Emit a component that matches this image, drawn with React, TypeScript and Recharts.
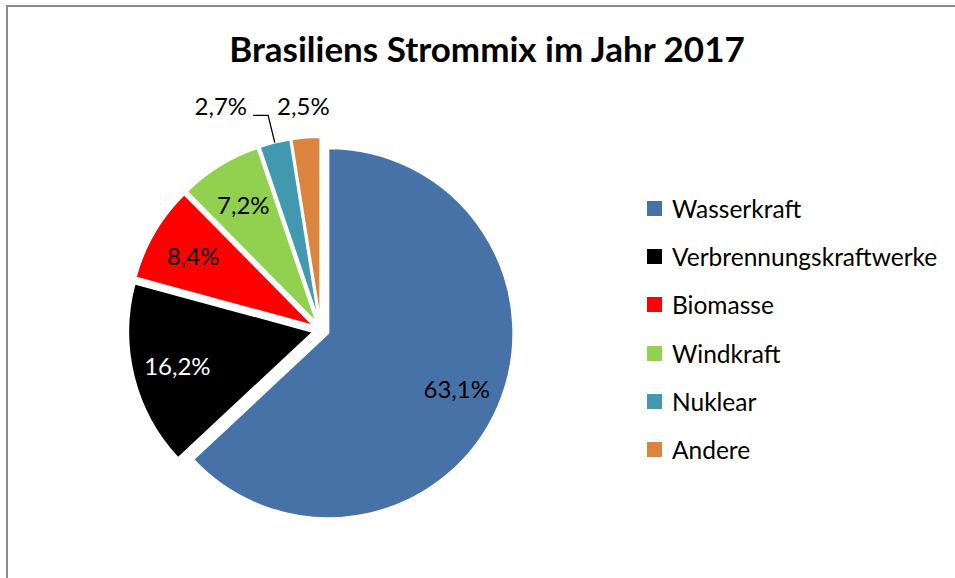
import React from 'react';
import { PieChart, Pie, Cell, Legend } from 'recharts';

const categories = ['Wasserkraft', 'Verbrennungskraftwerke', 'Biomasse', 'Windkraft', 'Nuklear', 'Andere'];
const shares = [63.1, 16.2, 8.4, 7.2, 2.7, 2.5];
const colors = ['#4672A8', '#000000', '#FF0000', '#92D050', '#4198AF', '#DB843D'];

const data = categories.map((name, i) => ({ name, value: shares[i] }));

const CX = 321;
const CY = 330;
const R = 185;
const EXPLODE = 8;
const FONT = 'Lato, "Open Sans", sans-serif';
const LABEL_SIZE = 24;

// offset of each exploded slice along its middle angle (clockwise from 12 o'clock)
const total = shares.reduce((a, b) => a + b, 0);
const offsets = shares.map((v, i) => {
  const before = shares.slice(0, i).reduce((a, b) => a + b, 0);
  const theta = ((before + v / 2) / total) * 2 * Math.PI;
  return { dx: Math.sin(theta) * EXPLODE, dy: -Math.cos(theta) * EXPLODE };
});

const fmt = (v: number) => v.toFixed(1).replace('.', ',') + '%';

const makeLabel = (k: number) => (props: any) => {
  const { cx, cy, midAngle, outerRadius, index, value } = props;
  if (index !== k) return null;
  const rad = Math.PI / 180;
  const ux = Math.cos(-midAngle * rad);
  const uy = Math.sin(-midAngle * rad);
  if (k < 4) {
    return (
      <text
        x={cx + ux * 140}
        y={cy + uy * 140}
        textAnchor="middle"
        dominantBaseline="central"
        fill={k === 1 ? '#fff' : '#000'}
        fontSize={LABEL_SIZE}
        fontFamily={FONT}
      >
        {fmt(value)}
      </text>
    );
  }
  if (k === 5) {
    return (
      <text
        x={cx + ux * (outerRadius + 32)}
        y={cy + uy * (outerRadius + 32)}
        textAnchor="middle"
        dominantBaseline="central"
        fill="#000"
        fontSize={LABEL_SIZE}
        fontFamily={FONT}
      >
        {fmt(value)}
      </text>
    );
  }
  // Nuklear: pushed to the left with a leader line
  const sx = cx + ux * outerRadius;
  const sy = cy + uy * outerRadius;
  const ex = cx + ux * (outerRadius + 28);
  const ey = cy + uy * (outerRadius + 28);
  return (
    <g>
      <polyline points={`${sx},${sy} ${ex},${ey} ${ex - 15},${ey}`} fill="none" stroke="#000" strokeWidth={1.3} />
      <text x={ex - 21} y={ey - 10} textAnchor="end" dominantBaseline="central" fill="#000" fontSize={LABEL_SIZE} fontFamily={FONT}>
        {fmt(value)}
      </text>
    </g>
  );
};

function LegendList() {
  return (
    <div style={{ fontFamily: FONT }}>
      {categories.map((c, i) => (
        <div key={c} style={{ height: 48.3, display: 'flex', alignItems: 'center' }}>
          <span style={{ width: 15, height: 15, background: colors[i], marginRight: 10, display: 'inline-block', flex: 'none' }} />
          <span style={{ fontSize: 24.5, color: '#000', whiteSpace: 'nowrap' }}>{c}</span>
        </div>
      ))}
    </div>
  );
}

export default function App() {
  return (
    <div style={{ position: 'absolute', left: 0, top: 0, width: 955, height: 578, background: '#fff', overflow: 'hidden', fontFamily: FONT }}>
      <div
        style={{
          position: 'absolute',
          left: 6,
          top: 5,
          width: 960,
          height: 600,
          borderLeft: '2px solid #8c8c8c',
          borderTop: '2px solid #8c8c8c',
        }}
      />
      <svg width={955} height={80} style={{ position: 'absolute', left: 0, top: 0 }}>
        <text x={487} y={62} textAnchor="middle" fontSize={35} fontWeight="bold" fontFamily={FONT} fill="#000">
          Brasiliens Strommix im Jahr 2017
        </text>
      </svg>
      <div style={{ position: 'absolute', left: 0, top: 0 }}>
        <PieChart width={955} height={578} margin={{ top: 0, right: 0, bottom: 0, left: 0 }}>
          {data.map((_, k) => (
            <Pie
              key={k}
              data={data}
              dataKey="value"
              nameKey="name"
              cx={CX + offsets[k].dx}
              cy={CY + offsets[k].dy}
              outerRadius={R}
              startAngle={90}
              endAngle={-270}
              legendType="none"
              label={makeLabel(k)}
              labelLine={false}
              isAnimationActive={false}
            >
              {data.map((d, i) => (
                <Cell
                  key={d.name}
                  fill={i === k ? colors[i] : 'none'}
                  stroke={i === k ? '#fff' : 'none'}
                  strokeWidth={i === k ? 2 : 0}
                />
              ))}
            </Pie>
          ))}
          <Legend
            content={() => <LegendList />}
            wrapperStyle={{ position: 'absolute', left: 647, top: 184, width: 300 }}
          />
        </PieChart>
      </div>
    </div>
  );
}
